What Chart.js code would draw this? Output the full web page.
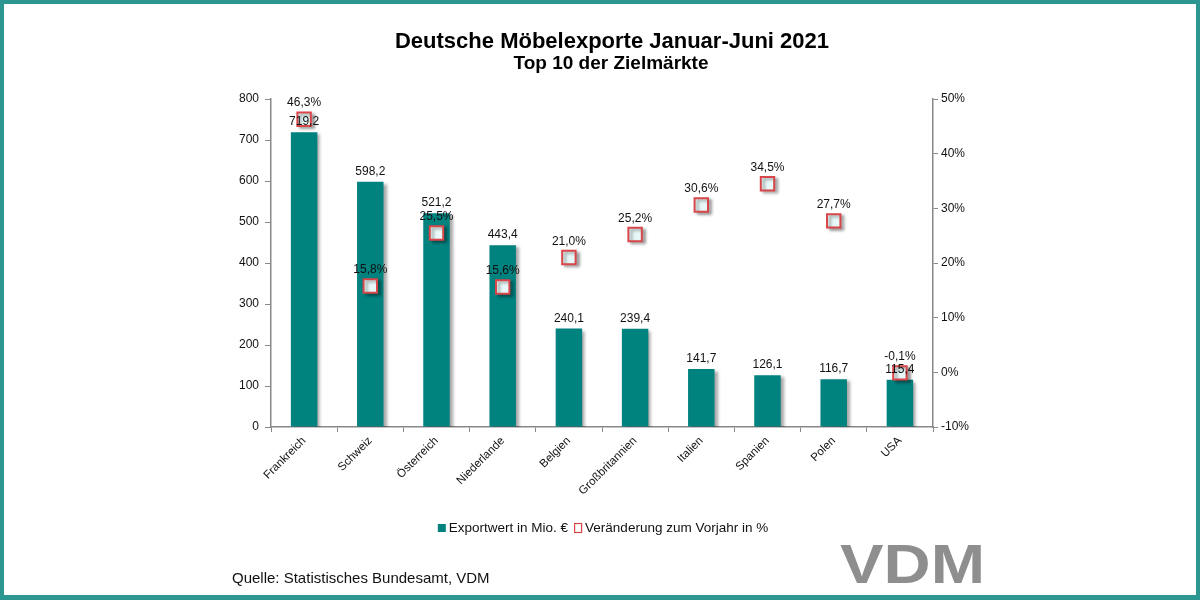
<!DOCTYPE html>
<html>
<head>
<meta charset="utf-8">
<script src="https://cdn.jsdelivr.net/npm/chart.js@4.4.0/dist/chart.umd.min.js"></script>
<style>
html,body{margin:0;padding:0;background:#fff;}
canvas{display:block;}
</style>
</head>
<body>
<canvas id="c" width="1200" height="600"></canvas>
<script>
const categories = ["Frankreich","Schweiz","Österreich","Niederlande","Belgien","Großbritannien","Italien","Spanien","Polen","USA"];
const exportValues = [719.2, 598.2, 521.2, 443.4, 240.1, 239.4, 141.7, 126.1, 116.7, 115.4];
const changePercent = [46.3, 15.8, 25.5, 15.6, 21.0, 25.2, 30.6, 34.5, 27.7, -0.1];
const titleText = "Deutsche Möbelexporte Januar-Juni 2021";
const subtitleText = "Top 10 der Zielmärkte";
const seriesNames = ["Exportwert in Mio. €", "Veränderung zum Vorjahr in %"];
const sourceText = "Quelle: Statistisches Bundesamt, VDM";
const logoText = "VDM";

const TEAL = "#00827f";
const RED = "#d9464a";
const FONT = "'Liberation Sans', Arial, sans-serif";
const fmt = v => v.toFixed(1).replace('.', ',');

const shadowPlugin = {
  id: 'shadow',
  beforeDatasetDraw(chart, args) {
    const ctx = chart.ctx;
    ctx.save();
    ctx.shadowColor = 'rgba(0,0,0,0.35)';
    ctx.shadowOffsetX = 3;
    ctx.shadowOffsetY = 2;
    ctx.shadowBlur = 3;
  },
  afterDatasetDraw(chart) { chart.ctx.restore(); }
};

const decorPlugin = {
  id: 'decor',
  afterDatasetsDraw(chart) {
    const ctx = chart.ctx;
    ctx.save();
    ctx.fillStyle = '#111';
    ctx.font = "12px " + FONT;
    ctx.textAlign = 'center';
    ctx.textBaseline = 'alphabetic';
    const barMeta = chart.getDatasetMeta(0);
    barMeta.data.forEach((el, i) => {
      ctx.fillText(fmt(exportValues[i]), el.x, el.y - 7);
    });
    const ptMeta = chart.getDatasetMeta(1);
    ptMeta.data.forEach((el, i) => {
      ctx.fillText(fmt(changePercent[i]) + '%', el.x, el.y - 13);
    });
    ctx.restore();
  },
  afterDraw(chart) {
    const ctx = chart.ctx;
    ctx.save();
    // Title
    ctx.fillStyle = '#000';
    ctx.textAlign = 'center';
    ctx.textBaseline = 'alphabetic';
    ctx.font = "bold 22px " + FONT;
    ctx.fillText(titleText, 612, 48);
    ctx.font = "bold 19px " + FONT;
    ctx.fillText(subtitleText, 611, 69);

    // Legend
    ctx.font = "13.5px " + FONT;
    ctx.textAlign = 'left';
    ctx.textBaseline = 'middle';
    const w1 = ctx.measureText(seriesNames[0]).width;
    const w2 = ctx.measureText(seriesNames[1]).width;
    const total = 8 + 3 + w1 + 6 + 8 + 3 + w2;
    let x = 603 - total / 2;
    const ly = 528;
    ctx.fillStyle = TEAL;
    ctx.fillRect(x, ly - 4, 8, 8);
    x += 11;
    ctx.fillStyle = '#111';
    ctx.fillText(seriesNames[0], x, ly);
    x += w1 + 6;
    ctx.strokeStyle = RED;
    ctx.lineWidth = 1.2;
    ctx.fillStyle = '#fff';
    ctx.fillRect(x, ly - 5, 8, 9);
    ctx.strokeRect(x + 0.5, ly - 4.5, 7, 9);
    x += 11;
    ctx.fillStyle = '#111';
    ctx.fillText(seriesNames[1], x, ly);

    // Source
    ctx.textBaseline = 'alphabetic';
    ctx.font = "15px " + FONT;
    ctx.fillText(sourceText, 232, 583);

    // Logo
    ctx.save();
    ctx.fillStyle = '#8e8e8e';
    ctx.font = "bold 56px " + FONT;
    const lw = ctx.measureText(logoText).width;
    ctx.translate(840, 583);
    ctx.scale(145 / lw, 1);
    ctx.fillText(logoText, 0, 0);
    ctx.restore();

    // Frame
    ctx.fillStyle = '#2e9690';
    ctx.fillRect(0, 0, 1200, 4);
    ctx.fillRect(0, 0, 4, 600);
    ctx.fillRect(1196, 0, 4, 600);
    ctx.fillRect(0, 595, 1200, 5);
    ctx.restore();
  }
};

new Chart(document.getElementById('c'), {
  type: 'bar',
  data: {
    labels: categories,
    datasets: [
      {
        label: seriesNames[0],
        data: exportValues,
        backgroundColor: TEAL,
        borderWidth: 0,
        barPercentage: 0.4,
        categoryPercentage: 1.0,
        yAxisID: 'y',
        order: 2
      },
      {
        type: 'line',
        label: seriesNames[1],
        data: changePercent,
        showLine: false,
        pointStyle: 'rect',
        pointRadius: 9.5,
        pointBorderWidth: 2,
        pointBorderColor: RED,
        pointBackgroundColor: '#e8f8f8',
        yAxisID: 'y1',
        order: 1
      }
    ]
  },
  options: {
    responsive: false,
    animation: false,
    devicePixelRatio: 1,
    layout: { padding: { top: 99, left: 0, right: 0, bottom: 0 } },
    plugins: {
      legend: { display: false },
      title: { display: false },
      tooltip: { enabled: false }
    },
    scales: {
      x: {
        grid: { display: true, drawOnChartArea: false, drawTicks: true, tickLength: 5, color: '#888', offset: true },
        border: { display: true, color: '#888', width: 1.5 },
        ticks: {
          autoSkip: false, maxRotation: 45, minRotation: 45, padding: 2,
          color: '#111', font: { family: FONT, size: 11.5 }
        },
        afterFit(s) { s.height = 173; }
      },
      y: {
        position: 'left',
        min: 0, max: 800,
        ticks: { stepSize: 100, color: '#111', padding: 6, font: { family: FONT, size: 12 } },
        grid: { display: true, drawOnChartArea: false, drawTicks: true, tickLength: 6, color: '#888' },
        border: { display: true, color: '#888', width: 1.5 },
        afterFit(s) { s.width = 271; }
      },
      y1: {
        position: 'right',
        min: -10, max: 50,
        ticks: { stepSize: 10, color: '#111', padding: 3, font: { family: FONT, size: 12 }, callback: v => v + '%' },
        grid: { display: true, drawOnChartArea: false, drawTicks: true, tickLength: 5, color: '#888' },
        border: { display: true, color: '#888', width: 1.5 },
        afterFit(s) { s.width = 267; }
      }
    }
  },
  plugins: [shadowPlugin, decorPlugin]
});
</script>
</body>
</html>
